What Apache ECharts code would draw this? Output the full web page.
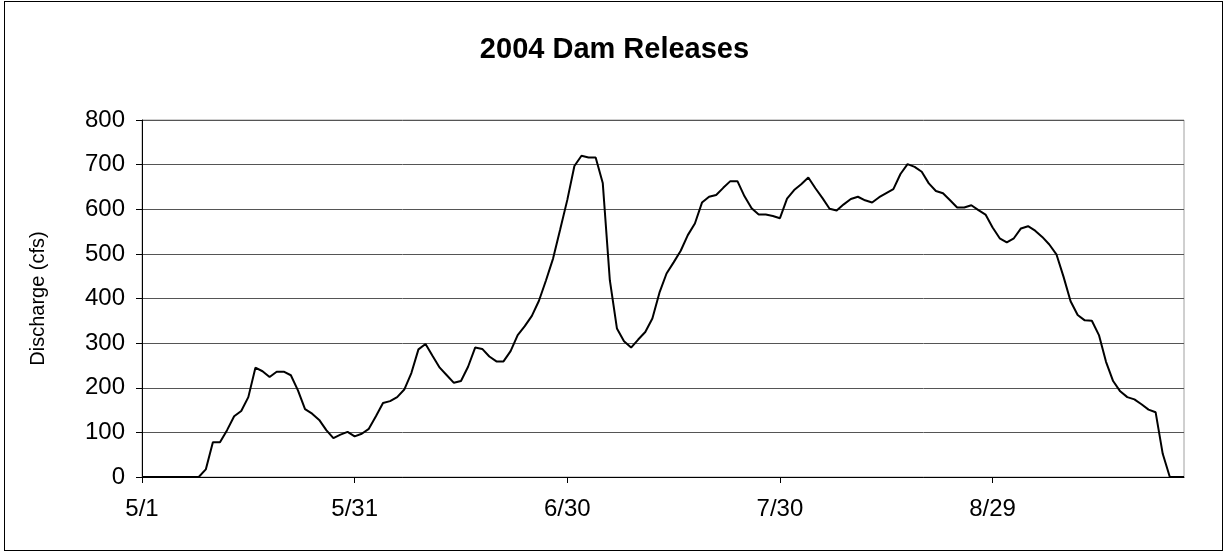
<!DOCTYPE html>
<html>
<head>
<meta charset="utf-8">
<script src="https://cdn.jsdelivr.net/npm/echarts@6/dist/echarts.min.js"></script>
<style>
  html, body { margin: 0; padding: 0; background: #fff; }
  #frame { position: absolute; left: 4px; top: 1px; width: 1219px; height: 550px; border: 1px solid #000; box-sizing: border-box; }
  #chart { position: absolute; left: 0; top: 0; width: 1229px; height: 556px; }
</style>
</head>
<body>
<div id="frame"></div>
<div id="chart"></div>
<script>
// Daily dam discharge, 5/1/2004 through 9/25/2004
const startMonth = 5, startDay = 1, dayCount = 148;
const daysInMonth = { 5: 31, 6: 30, 7: 31, 8: 31, 9: 30 };

const dates = [];
(function () {
  let m = startMonth, d = startDay;
  for (let i = 0; i < dayCount; i++) {
    dates.push(m + '/' + d);
    d++;
    if (d > daysInMonth[m]) { d = 1; m++; }
  }
})();

// Discharge (cfs) by day
const discharge = [
  0, 0, 0, 0, 0, 0, 0, 0, 0, 17,
  78, 78, 105, 136, 148, 179, 245, 237, 224, 236,
  236, 228, 194, 152, 142, 128, 105, 87, 95, 101,
  91, 97, 108, 136, 166, 170, 179, 196, 233, 286,
  298, 271, 245, 228, 211, 215, 247, 290, 287, 270,
  259, 259, 282, 318, 338, 361, 395, 441, 490, 555,
  621, 697, 720, 716, 716, 659, 441, 333, 304, 290,
  308, 325, 355, 413, 456, 481, 507, 542, 568, 615,
  628, 632, 648, 663, 663, 629, 602, 588, 588, 585,
  580, 624, 643, 656, 671, 647, 625, 601, 597, 611,
  623, 628, 620, 615, 627, 636, 645, 679, 701, 695,
  684, 658, 641, 636, 620, 604, 604, 609, 598, 588,
  559, 535, 526, 535, 557, 562, 552, 538, 521, 499,
  449, 394, 363, 351, 350, 318, 258, 215, 192, 179,
  174, 163, 151, 145, 52, 0, 0, 0
];

const yTicks = { min: 0, max: 800, step: 100 };
const labelEvery = 30;

const font = '"Liberation Sans", Arial, sans-serif';
const chart = echarts.init(document.getElementById('chart'), null, { renderer: 'canvas' });

chart.setOption({
  animation: false,
  backgroundColor: 'transparent',
  title: {
    text: '2004 Dam Releases',
    left: 'center',
    top: 30,
    textStyle: { fontFamily: font, fontSize: 29, fontWeight: 'bold', color: '#000' }
  },
  grid: {
    left: 142, right: 45, top: 120, bottom: 79,
    show: true, borderColor: '#a0a0a0', borderWidth: 1, backgroundColor: 'transparent'
  },
  xAxis: {
    type: 'category',
    data: dates,
    boundaryGap: false,
    axisLine: { lineStyle: { color: '#000', width: 1 } },
    axisTick: {
      show: true, length: 6, inside: false,
      interval: function (i) { return i % labelEvery === 0; },
      lineStyle: { color: '#000' }
    },
    axisLabel: {
      interval: function (i) { return i % labelEvery === 0; },
      fontFamily: font, fontSize: 24, color: '#000', margin: 20
    },
    splitLine: { show: false }
  },
  yAxis: {
    type: 'value',
    min: yTicks.min, max: yTicks.max, interval: yTicks.step,
    name: 'Discharge (cfs)',
    nameLocation: 'middle',
    nameGap: 94,
    nameRotate: 90,
    nameTextStyle: { fontFamily: font, fontSize: 20, color: '#000' },
    axisLine: { show: true, lineStyle: { color: '#000', width: 1 } },
    axisTick: { show: true, length: 6, lineStyle: { color: '#000' } },
    axisLabel: { fontFamily: font, fontSize: 24, color: '#000', margin: 17 },
    splitLine: { show: true, lineStyle: { color: '#555', width: 1 } }
  },
  series: [{
    type: 'line',
    data: discharge,
    showSymbol: false,
    symbol: 'none',
    lineStyle: { color: '#000', width: 2 },
    smooth: false
  }]
});
</script>
</body>
</html>
